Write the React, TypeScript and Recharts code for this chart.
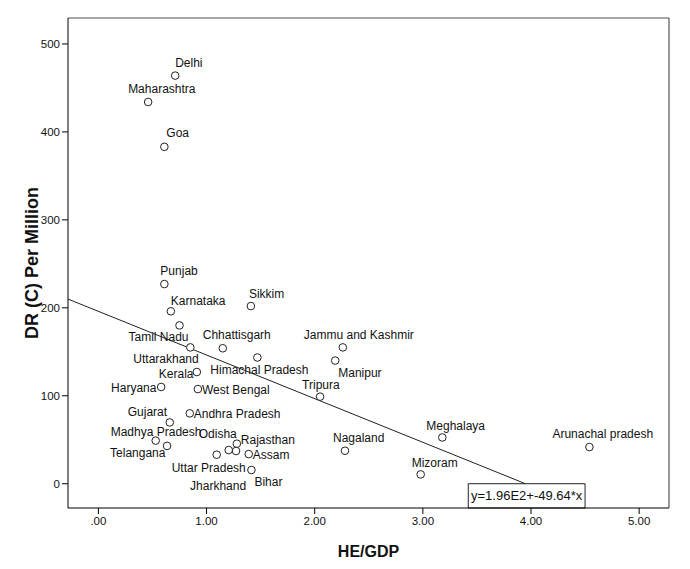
import React from 'react';
import { ScatterChart, Scatter, XAxis, YAxis, ReferenceLine, ReferenceArea, Label } from 'recharts';

// ---- data ----
const states = [
  'Delhi', 'Maharashtra', 'Goa', 'Punjab', 'Karnataka', 'Tamil Nadu', 'Sikkim', 'Uttarakhand',
  'Chhattisgarh', 'Himachal Pradesh', 'Jammu and Kashmir', 'Manipur', 'Kerala', 'Haryana',
  'West Bengal', 'Tripura', 'Gujarat', 'Andhra Pradesh', 'Madhya Pradesh', 'Telangana',
  'Odisha', 'Rajasthan', 'Uttar Pradesh', 'Jharkhand', 'Assam', 'Bihar', 'Nagaland',
  'Meghalaya', 'Mizoram', 'Arunachal pradesh',
];
const heGdp = [
  0.71, 0.46, 0.61, 0.61, 0.67, 0.75, 1.41, 0.85,
  1.15, 1.47, 2.26, 2.19, 0.91, 0.58,
  0.92, 2.05, 0.66, 0.845, 0.53, 0.635,
  1.205, 1.28, 1.094, 1.273, 1.39, 1.415, 2.28,
  3.18, 2.98, 4.54,
];
const drPerMillion = [
  464, 434, 383, 227, 196, 180, 202, 155,
  154, 143.5, 155, 140, 127, 110,
  107.6, 99, 69.7, 80, 49, 43,
  38.3, 45.5, 33, 37.2, 33.7, 15.6, 37.5,
  52.6, 10.6, 41.7,
];
const xTicks = [0, 1, 2, 3, 4, 5];
const yTicks = [0, 100, 200, 300, 400, 500];
const fitIntercept = 196;
const fitSlope = -49.64;
const equationText = 'y=1.96E2+-49.64*x';

// label placement: pixel offset of label start from marker centre
const labelDx = [
  0, -20, 2, -4, 0, -51, -2, -57,
  -20, -47, -39, 3, -38, -50,
  4, -18, -42, 4, -45, -57,
  -30, 4, -45, -46, 4, 3, -12,
  -16, -9, -37,
];
const labelDy = [
  -13, -13, -14, -13, -11, 11, -12, 11,
  -13, 12, -13, 12, 2, 1,
  1, -12, -11, 0, -9, 7,
  -16, -4, 13, 35, 1, 12, -13,
  -12, -12, -13,
];

const X_DOMAIN: [number, number] = [-0.281, 5.276];
const Y_DOMAIN: [number, number] = [-27.6, 529.5];
const FONT = '"Liberation Sans", Arial, sans-serif';

const points = states.map((name, i) => ({
  name,
  x: heGdp[i],
  y: drPerMillion[i],
  dx: labelDx[i],
  dy: labelDy[i],
}));

const fitStart = X_DOMAIN[0];
const fitEnd = fitIntercept / -fitSlope; // where the fit meets y = 0 (top of the equation box)

const renderPoint = (props: any) => {
  const { cx, cy, payload } = props;
  if (cx == null || cy == null) return <g />;
  return (
    <g>
      <circle cx={cx} cy={cy} r={3.8} fill="#fff" stroke="#222" strokeWidth={1} />
      <text
        x={cx + payload.dx}
        y={cy + payload.dy}
        dy="0.35em"
        fontSize={12}
        fontFamily={FONT}
        fill="#111"
      >
        {payload.name}
      </text>
    </g>
  );
};

const xTitle = (p: any) => {
  const vb = p.viewBox || { x: 60, y: 500, width: 601, height: 53 };
  return (
    <text
      x={vb.x + vb.width / 2}
      y={vb.y + 43}
      dy="0.36em"
      textAnchor="middle"
      fontSize={16}
      fontWeight="bold"
      fontFamily={FONT}
      fill="#111"
    >
      HE/GDP
    </text>
  );
};

const yTitle = (p: any) => {
  const vb = p.viewBox || { x: 0, y: 10, width: 60, height: 490 };
  const cx = 24;
  const cy = vb.y + vb.height / 2;
  return (
    <text
      x={cx}
      y={cy}
      dy="0.36em"
      textAnchor="middle"
      transform={`rotate(-90, ${cx}, ${cy})`}
      fontSize={18}
      fontWeight="bold"
      fontFamily={FONT}
      fill="#111"
    >
      DR (C) Per Million
    </text>
  );
};

export default function App() {
  return (
    <div style={{ width: 682, height: 553, background: '#fff' }}>
      <ScatterChart width={682} height={553} margin={{ top: 10, right: 21, left: 0, bottom: 0 }}>
        <XAxis
          type="number"
          dataKey="x"
          domain={X_DOMAIN}
          allowDataOverflow
          ticks={xTicks}
          tickFormatter={(v: number) => (v === 0 ? '.00' : v.toFixed(2))}
          tickSize={6}
          tickMargin={3}
          height={53}
          stroke="#000"
          tick={{ fill: '#111', fontSize: 11.5, fontFamily: FONT }}
          label={{ content: xTitle }}
        />
        <YAxis
          type="number"
          dataKey="y"
          domain={Y_DOMAIN}
          allowDataOverflow
          ticks={yTicks}
          tickSize={6}
          tickMargin={2}
          width={60}
          stroke="#000"
          tick={{ fill: '#111', fontSize: 11.5, fontFamily: FONT }}
          label={{ content: yTitle }}
        />
        <ReferenceLine y={Y_DOMAIN[1]} stroke="#8a8a8a" strokeWidth={1.5} ifOverflow="visible" />
        <ReferenceLine x={X_DOMAIN[1]} stroke="#333" strokeWidth={1} ifOverflow="visible" />
        <ReferenceLine
          segment={[
            { x: fitStart, y: fitIntercept + fitSlope * fitStart },
            { x: fitEnd, y: fitIntercept + fitSlope * fitEnd },
          ]}
          stroke="#222"
          strokeWidth={1}
          ifOverflow="visible"
        />
        <ReferenceArea
          x1={3.42}
          x2={4.5}
          y1={Y_DOMAIN[0]}
          y2={0}
          fill="#fff"
          fillOpacity={1}
          stroke="#222"
          strokeWidth={1}
          ifOverflow="visible"
        >
          <Label value={equationText} position="center" fontSize={13} fontFamily={FONT} fill="#111" />
        </ReferenceArea>
        <Scatter data={points} shape={renderPoint} isAnimationActive={false} />
      </ScatterChart>
    </div>
  );
}
